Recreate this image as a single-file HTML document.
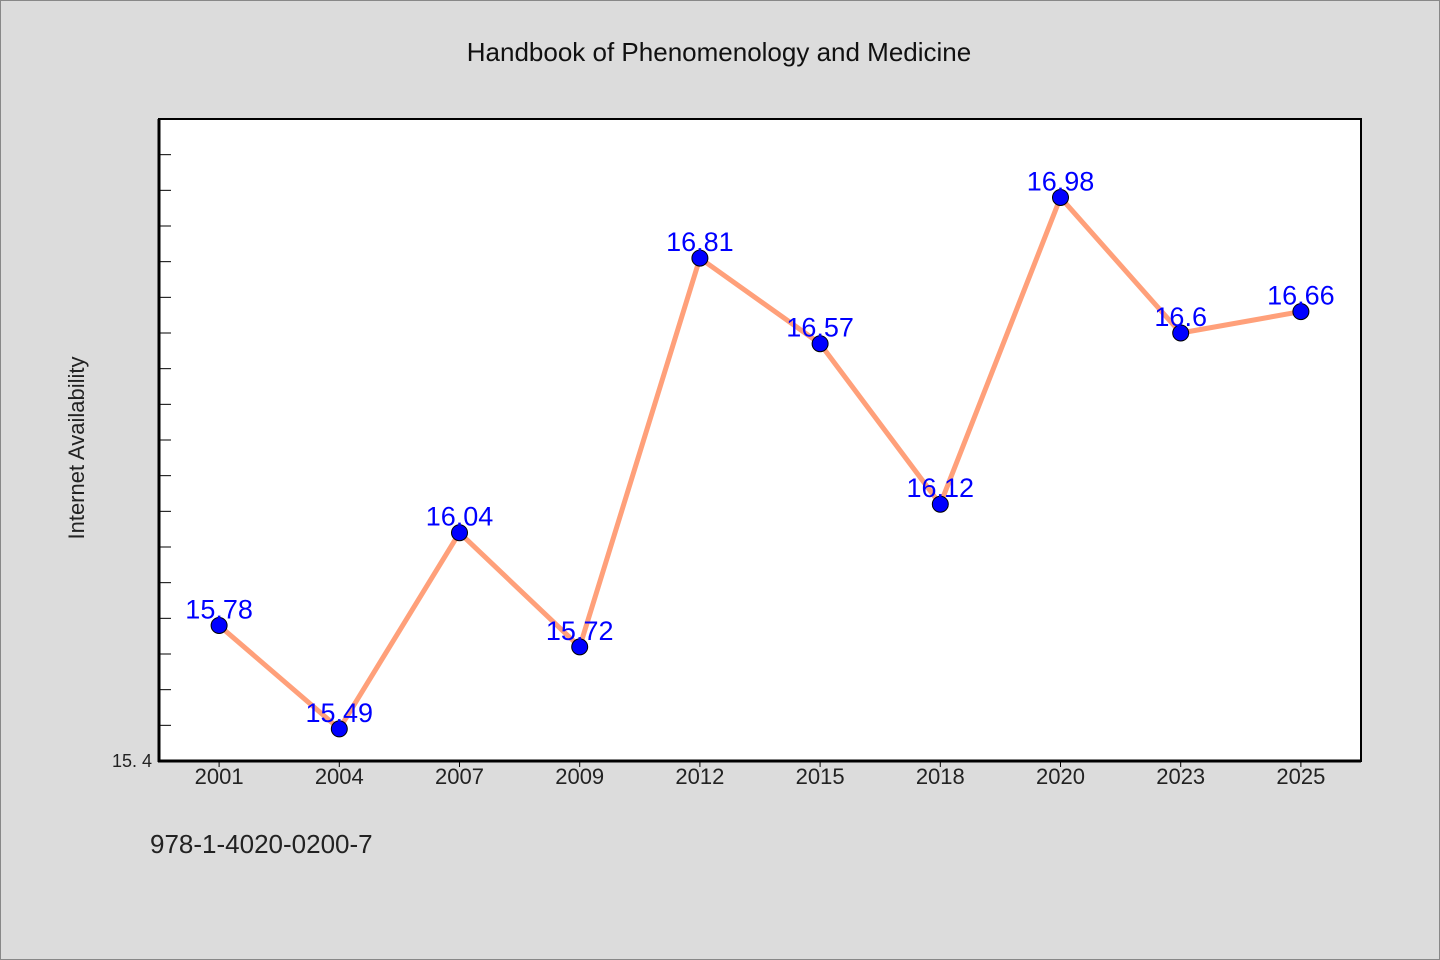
<!DOCTYPE html>
<html><head><meta charset="utf-8"><style>
body{margin:0;background:#dcdcdc;}
svg{display:block;font-family:"WenQuanYi Zen Hei","Liberation Sans",sans-serif;}
</style></head><body>
<svg id="c" width="1440" height="960">
<rect x="0.5" y="0.5" width="1439" height="959" fill="#dcdcdc" stroke="#888"/>
<text x="719" y="61" text-anchor="middle" font-size="26" fill="#111">Handbook of Phenomenology and Medicine</text>
<rect x="159" y="119" width="1202" height="642" fill="#fff" stroke="#000" stroke-width="2"/>
<line x1="159" y1="119" x2="159" y2="762" stroke="#000" stroke-width="3"/>
<line x1="158" y1="761" x2="1361" y2="761" stroke="#000" stroke-width="3"/>
<text transform="translate(84,448) rotate(-90)" text-anchor="middle" font-size="22" fill="#222">Internet Availability</text>
<text x="150" y="853" font-size="26" fill="#222">978-1-4020-0200-7</text>
<g id="g"></g>
</svg>
<script>
const categories=["2001","2004","2007","2009","2012","2015","2018","2020","2023","2025"];
const values=[15.78,15.49,16.04,15.72,16.81,16.57,16.12,16.98,16.6,16.66];
const yMin=15.4, yMax=17.2, tickStep=0.1;
const L=159,R=1361,T=119,B=761;
const bw=(R-L)/categories.length;
const xs=i=>L+bw*(i+0.5);
const ys=v=>B-(v-yMin)/(yMax-yMin)*(B-T);
const g=document.getElementById('g');
const NS='http://www.w3.org/2000/svg';
function mk(t,a){const e=document.createElementNS(NS,t);for(const k in a)e.setAttribute(k,a[k]);g.appendChild(e);return e;}
for(let v=yMin+tickStep;v<yMax-1e-9;v+=tickStep){
 const e=mk('line',{x1:L,x2:L+12,y1:ys(v),y2:ys(v),stroke:'#000','stroke-width':1});
 
 
}
const yl=mk('text',{x:L-7,y:B+6,'text-anchor':'end','font-size':18,fill:'#222'});
yl.textContent=yMin.toFixed(1).replace('.','. ');


categories.forEach((c,i)=>{
 const t=mk('line',{x1:xs(i),x2:xs(i),y1:B,y2:B+6,stroke:'#000','stroke-width':1});
 
 
 const l=mk('text',{x:xs(i),y:B+23,'text-anchor':'middle','font-size':22,fill:'#222'});
 l.textContent=c;
 
 
});
const line=mk('polyline',{points:values.map((v,i)=>xs(i)+','+ys(v)).join(' '),fill:'none',stroke:'#ffa07a','stroke-width':5,'stroke-linejoin':'round'});


values.forEach((v,i)=>{
 const p=mk('circle',{cx:xs(i),cy:ys(v),r:8,fill:'#0000ff',stroke:'#000','stroke-width':1});
 
 
 const t=mk('text',{x:xs(i),y:ys(v)-7,'text-anchor':'middle','font-size':27,fill:'#0000ff'});
 t.textContent=String(v);
 
 
});
</script>
</body></html>
